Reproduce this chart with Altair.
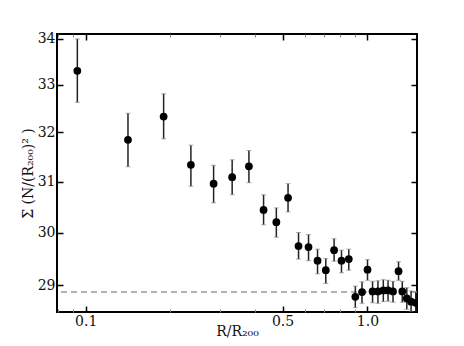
import altair as alt
import pandas as pd

# R/R200 values
r_vals = [0.0934, 0.1413, 0.1891, 0.2363, 0.2845, 0.3311, 0.3797, 0.4280, 0.4751, 0.5228,
          0.5696, 0.6181, 0.6653, 0.7118, 0.7618, 0.8091, 0.859, 0.906, 0.957, 1.001,
          1.043, 1.090, 1.139, 1.184, 1.233, 1.290, 1.330, 1.380, 1.429, 1.485]
# surface density
sigma = [33.30, 31.85, 32.33, 31.34, 30.96, 31.09, 31.31, 30.44, 30.20, 30.68,
         29.74, 29.72, 29.46, 29.28, 29.66, 29.46, 29.49, 28.78, 28.87, 29.29,
         28.88, 28.88, 28.90, 28.90, 28.88, 29.26, 28.88, 28.75, 28.69, 28.67]
sigma_hi = [33.99, 32.40, 32.81, 31.74, 31.33, 31.44, 31.63, 30.74, 30.48, 30.96,
            30.00, 29.96, 29.68, 29.50, 29.88, 29.66, 29.68, 28.98, 29.06, 29.48,
            29.07, 29.08, 29.10, 29.09, 29.07, 29.44, 29.07, 28.95, 28.89, 28.87]
sigma_lo = [32.63, 31.30, 31.87, 30.91, 30.58, 30.74, 30.98, 30.15, 29.91, 30.40,
            29.49, 29.46, 29.21, 29.03, 29.45, 29.23, 29.28, 28.58, 28.66, 29.09,
            28.67, 28.66, 28.69, 28.70, 28.68, 29.09, 28.68, 28.55, 28.50, 28.48]
background_level = [28.87]

x_major = [0.1, 0.5, 1.0]
x_minor = [0.08, 0.09, 0.2, 0.3, 0.4, 0.6, 0.7, 0.8, 0.9]
y_ticks = [29, 30, 31, 32, 33, 34]

df = pd.DataFrame({"r": r_vals, "sigma": sigma, "hi": sigma_hi, "lo": sigma_lo})
bg = pd.DataFrame({"level": background_level})

xs = alt.Scale(type="log", domain=[0.0791, 1.50], nice=False)
ys = alt.Scale(type="log", domain=[28.5, 34.1], nice=False, zero=False)

base = alt.Chart(df)

bars = base.mark_rule(color="#222", strokeWidth=1.5, clip=True).encode(
    x=alt.X("r:Q", scale=xs, title="R/R₂₀₀",
            axis=alt.Axis(orient="bottom", values=x_major, format=".1f", tickSize=6, offset=-6,
                          domain=False, grid=False, labelPadding=2, titlePadding=-4,
                          tickColor="black", tickWidth=1.5)),
    y=alt.Y("lo:Q", scale=ys, title="Σ (N/(R₂₀₀)² )",
            axis=alt.Axis(orient="left", values=y_ticks, format="d", tickSize=6, offset=-6,
                          domain=False, grid=False, labelPadding=2, titlePadding=2,
                          tickColor="black", tickWidth=1.5)),
    y2="hi:Q",
)

cap_hi = base.mark_tick(orient="horizontal", size=5, thickness=1, color="#888", clip=True).encode(
    x=alt.X("r:Q", scale=xs, axis=None),
    y=alt.Y("hi:Q", scale=ys, axis=None),
)
cap_lo = base.mark_tick(orient="horizontal", size=5, thickness=1, color="#888", clip=True).encode(
    x=alt.X("r:Q", scale=xs, axis=None),
    y=alt.Y("lo:Q", scale=ys, axis=None),
)

points = base.mark_circle(size=60, color="black", opacity=1, clip=True).encode(
    x=alt.X("r:Q", scale=xs, axis=None),
    y=alt.Y("sigma:Q", scale=ys, axis=None),
)

dash = alt.Chart(bg).mark_rule(color="#999", strokeDash=[6, 4], strokeWidth=1.5).encode(
    y=alt.Y("level:Q", scale=ys, axis=None)
)

ax_minor_bottom_right = base.mark_point(opacity=0).encode(
    x=alt.X("r:Q", scale=xs, title=None,
            axis=alt.Axis(orient="bottom", values=x_minor, labels=False, tickSize=3, offset=-3,
                          domain=False, grid=False, tickColor="#888", tickWidth=1)),
    y=alt.Y("sigma:Q", scale=ys, title=None,
            axis=alt.Axis(orient="right", values=y_ticks, labels=False, tickSize=6, offset=-6,
                          domain=False, grid=False, tickColor="black", tickWidth=1.5)),
)
ax_top_major = base.mark_point(opacity=0).encode(
    x=alt.X("r:Q", scale=xs, title=None,
            axis=alt.Axis(orient="top", values=x_major, labels=False, tickSize=6, offset=-6,
                          domain=False, grid=False, tickColor="black", tickWidth=1.5)),
    y=alt.Y("sigma:Q", scale=ys, axis=None),
)
ax_top_minor = base.mark_point(opacity=0).encode(
    x=alt.X("r:Q", scale=xs, title=None,
            axis=alt.Axis(orient="top", values=x_minor, labels=False, tickSize=3, offset=-3,
                          domain=False, grid=False, tickColor="#888", tickWidth=1)),
    y=alt.Y("sigma:Q", scale=ys, axis=None),
)

chart = alt.layer(
    dash, bars, cap_hi, cap_lo, points, ax_minor_bottom_right, ax_top_major, ax_top_minor
).resolve_axis(x="independent", y="independent").properties(
    width=360, height=278,
    autosize=alt.AutoSizeParams(type="none"),
    padding={"left": 49, "top": 26, "right": 39, "bottom": 26},
).configure_view(
    stroke="black", strokeWidth=2
).configure_axis(
    labelFont="DejaVu Serif", labelFontSize=14, labelColor="#111",
    titleFont="DejaVu Serif", titleFontSize=14, titleFontWeight="normal", titleColor="#111",
)

chart.save("out.html", embed_options={"renderer": "svg", "actions": False})
